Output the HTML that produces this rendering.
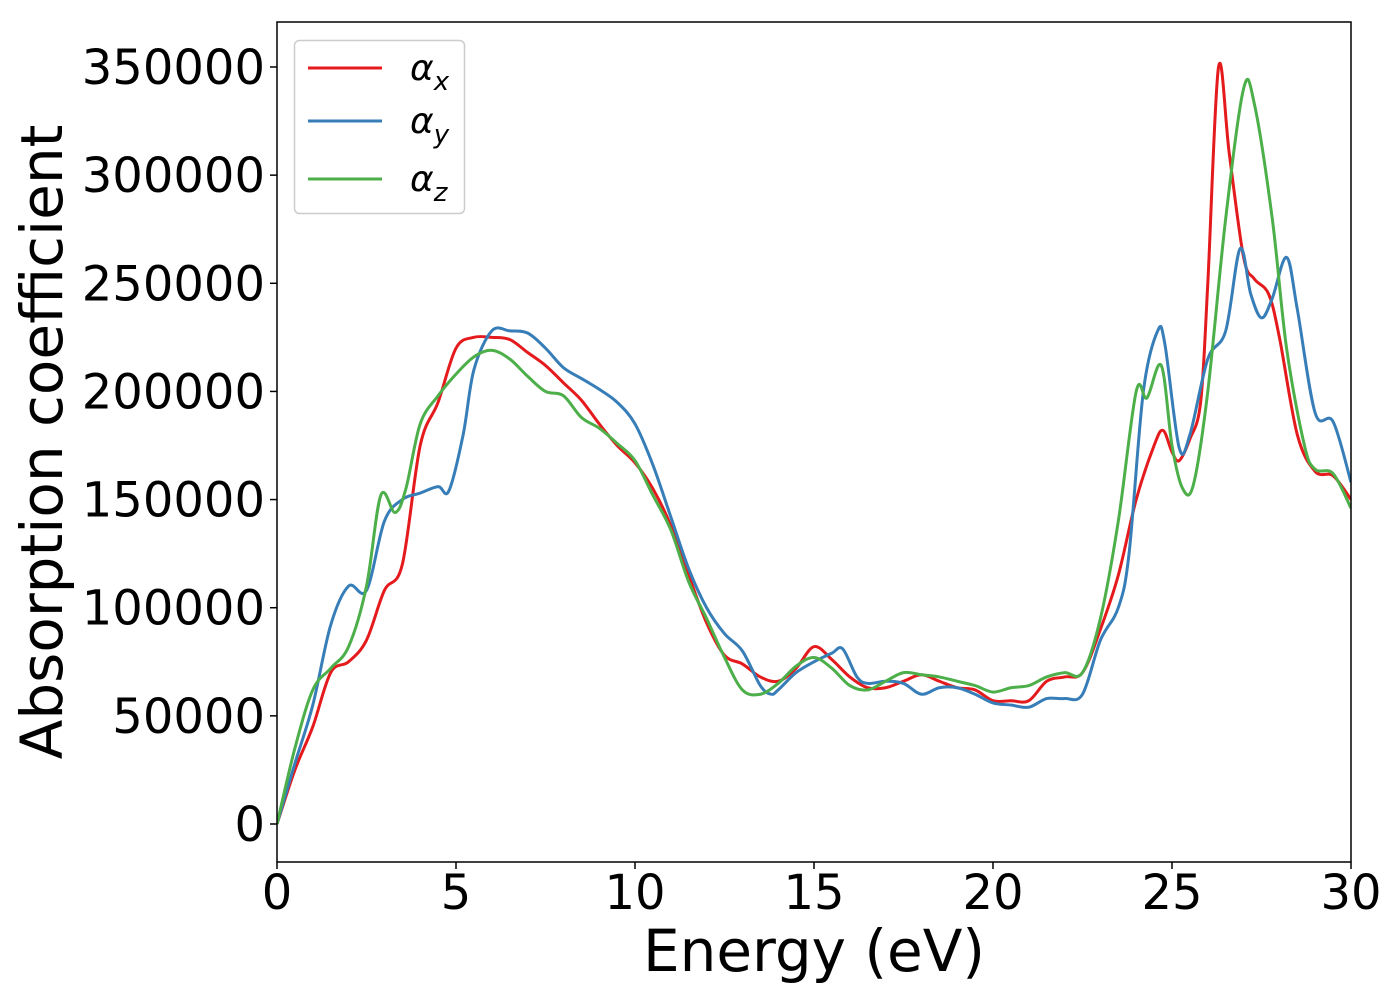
<!DOCTYPE html>
<html><head><meta charset="utf-8"><style>
body{margin:0;background:#fff;}
svg{display:block;font-family:"DejaVu Sans","Liberation Sans",sans-serif;}
</style></head><body>
<svg id="chart" width="1400" height="1000">
</svg>
<script>
const xTicks=[0,5,10,15,20,25,30];
const yTicks=[0,50000,100000,150000,200000,250000,300000,350000];
const xE=[0,0.5,1,1.5,2,2.5,3,3.5,4,4.5,5,5.5,6,6.5,7,7.5,8,8.5,9,9.5,10,10.5,11,11.5,12,12.5,13,13.5,14,14.5,15,15.5,16,16.5,17,17.5,18,18.5,19,19.5,20,20.5,21,21.5,22,22.5,23,23.5,24,24.5,24.75,25,25.2,25.5,25.8,26,26.3,26.6,27,27.3,27.7,28,28.5,29,29.5,30];
const xV=[0,25000,45000,70000,75000,85000,108000,120000,175000,195000,220000,225000,225000,224000,218000,212000,204000,196000,185000,175000,167000,155000,138000,115000,93000,78000,74000,68000,66000,72000,82000,76000,68000,63000,63000,66000,69000,66000,63000,62000,57000,57000,57000,66000,68000,70000,90000,115000,150000,175000,182000,172000,168000,178000,195000,250000,350000,310000,262000,252000,245000,225000,180000,163000,161000,150000];
const yE=[0,0.5,1,1.5,2,2.5,3,3.5,4,4.5,4.8,5.2,5.5,6,6.5,7,7.5,8,8.5,9,9.5,10,10.5,11,11.5,12,12.5,13,13.5,13.8,14,14.5,15,15.5,15.8,16.2,16.5,17,17.5,18,18.5,19,19.5,20,20.5,21,21.5,22,22.5,23,23.5,23.8,24.2,24.6,24.8,25.2,25.5,26,26.5,26.9,27.2,27.5,27.8,28.2,28.5,29,29.5,30];
const yV=[0,28000,55000,92000,110000,108000,140000,150000,153000,156000,154000,180000,210000,228000,228000,227000,220000,211000,206000,201000,195000,185000,166000,142000,118000,100000,88000,80000,64000,60000,62000,70000,75000,79000,81000,68000,65000,66000,65000,60000,63000,63000,60000,56000,55000,54000,58000,58000,60000,85000,100000,125000,200000,228000,222000,174000,180000,215000,228000,266000,245000,234000,243000,262000,238000,190000,186000,158000];
const zE=[0,0.5,1,1.5,2,2.5,2.9,3.3,3.6,4,4.5,5,5.5,6,6.5,7,7.5,8,8.5,9,9.5,10,10.5,11,11.5,12,12.5,13,13.5,14,14.5,15,15.5,16,16.5,17,17.5,18,18.5,19,19.5,20,20.5,21,21.5,22,22.5,23,23.5,24,24.3,24.7,25,25.3,25.6,26,26.5,27,27.3,27.8,28.2,28.7,29,29.5,30];
const zV=[0,35000,62000,72000,82000,110000,152000,144000,155000,185000,198000,208000,216000,219000,215000,207000,200000,198000,188000,183000,176000,168000,152000,136000,112000,95000,77000,62000,60000,65000,73000,77000,72000,64000,62000,66000,70000,69000,68000,66000,64000,61000,63000,64000,68000,70000,70000,95000,140000,200000,197000,212000,175000,155000,157000,200000,280000,340000,333000,280000,220000,175000,164000,162000,146000];
const L=277,R=1351,T=22,B=862,Y0=824,Y350=67;
const sx=v=>L+(v/30)*(R-L);
const sy=v=>Y0-(v/350000)*(Y0-Y350);
const NS="http://www.w3.org/2000/svg";
const svg=document.getElementById('chart');
function mk(t,a){const e=document.createElementNS(NS,t);for(const k in a)e.setAttribute(k,a[k]);svg.appendChild(e);return e;}
function path(E,V){const p=E.map((e,i)=>[sx(e),sy(V[i])]);let d=`M${p[0][0]},${p[0][1]}`;
for(let i=0;i<p.length-1;i++){const p0=p[Math.max(i-1,0)],p1=p[i],p2=p[i+1],p3=p[Math.min(i+2,p.length-1)];
const c1=[p1[0]+(p2[0]-p0[0])/6,p1[1]+(p2[1]-p0[1])/6],c2=[p2[0]-(p3[0]-p1[0])/6,p2[1]-(p3[1]-p1[1])/6];
d+=`C${c1[0]},${c1[1]} ${c2[0]},${c2[1]} ${p2[0]},${p2[1]}`;}return d;}
const defs=mk('defs',{});const cp=document.createElementNS(NS,'clipPath');cp.setAttribute('id','pc');defs.appendChild(cp);
const cr=document.createElementNS(NS,'rect');cr.setAttribute('x',L);cr.setAttribute('y',T);cr.setAttribute('width',R-L);cr.setAttribute('height',B-T);cp.appendChild(cr);
const series=[[xE,xV,'#e41a1c','series-alpha-x'],[yE,yV,'#377eb8','series-alpha-y'],[zE,zV,'#4daf4a','series-alpha-z']];
series.forEach(s=>{const e=mk('path',{d:path(s[0],s[1]),fill:'none',stroke:s[2],'stroke-width':3,'clip-path':'url(#pc)'});

});
const frame=mk('rect',{x:L,y:T,width:R-L,height:B-T,fill:'none',stroke:'#000','stroke-width':1.5});


xTicks.forEach(v=>{mk('line',{x1:sx(v),x2:sx(v),y1:B,y2:B+7,stroke:'#000','stroke-width':1.5});
const t=mk('text',{x:sx(v),y:B+47,'font-size':48,'text-anchor':'middle'});t.textContent=v;

});
yTicks.forEach(v=>{mk('line',{x1:L-7,x2:L,y1:sy(v),y2:sy(v),stroke:'#000','stroke-width':1.5});
const t=mk('text',{x:L-12,y:sy(v)+17,'font-size':48,'text-anchor':'end'});t.textContent=v;

});
const xt=mk('text',{x:814,y:971,'font-size':58,'text-anchor':'middle'});xt.textContent='Energy (eV)';


const yt=mk('text',{x:0,y:0,'font-size':58,'text-anchor':'middle',transform:'translate(62,442) rotate(-90)'});yt.textContent='Absorption coefficient';


const lg=mk('rect',{x:294.5,y:40.5,width:170,height:173,rx:5,fill:'#fff',stroke:'#ccc','stroke-width':1.5});


const labs=['x','y','z'],ly=[68,121,179];
series.forEach((s,i)=>{mk('line',{x1:308,x2:382,y1:ly[i],y2:ly[i],stroke:s[2],'stroke-width':3});
const t=mk('text',{x:410,y:ly[i]+12,'font-size':36,'font-style':'italic'});
t.innerHTML='α<tspan font-size="26" dy="10">'+labs[i]+'</tspan>';

});
</script>
</body></html>
